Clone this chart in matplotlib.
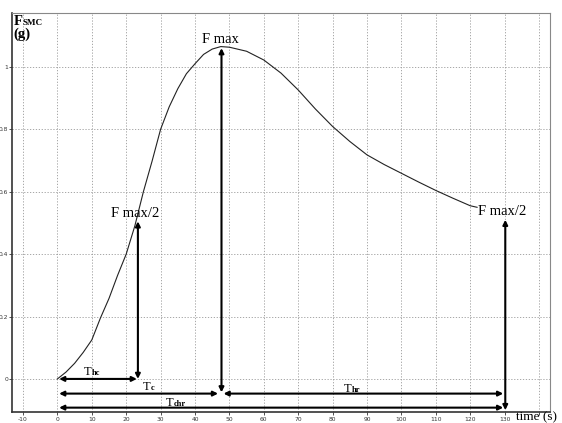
import matplotlib
matplotlib.use('Agg')
import matplotlib.pyplot as plt

# curve
time_s = [0, 2.5, 5, 7.5, 10, 12.5, 15, 17.5, 20, 22.5, 25, 27.5, 30, 32.5, 35, 37.5, 40, 42.5, 45, 47.5,
          50, 55, 60, 65, 70, 75, 80, 85, 90, 95, 100, 105, 110, 115, 120, 122]
force_g = [0.0, 0.022, 0.05, 0.085, 0.125, 0.195, 0.258, 0.332, 0.40, 0.49, 0.60, 0.697, 0.80, 0.872, 0.93,
           0.978, 1.01, 1.04, 1.057, 1.065, 1.063, 1.05, 1.022, 0.98, 0.926, 0.865, 0.809, 0.761, 0.718,
           0.687, 0.659, 0.631, 0.604, 0.579, 0.555, 0.55]

x_ticks = [-10, 0, 10, 20, 30, 40, 50, 60, 70, 80, 90, 100, 110, 120, 130, 140]
x_labels = ['-10', '0', '10', '20', '30', '40', '50', '60', '70', '80', '90', '100', '110', '120', '130', '']
y_ticks = [0, 0.2, 0.4, 0.6, 0.8, 1.0]
y_labels = ['0', '0.2', '0.4', '0.6', '0.8', '1']

# key times / levels
t_half_up = 23.4
t_peak = 47.7
t_half_down = 130.2
f_peak = 1.062
f_half = 0.51

SERIF = ['Liberation Serif', 'DejaVu Serif']

fig = plt.figure(figsize=(5.62, 4.23), dpi=100)
ax = fig.add_axes([12 / 562, 1 - 411.7 / 423, (550 - 12) / 562, (411.7 - 13.5) / 423])

ax.plot(time_s, force_g, color='#222222', lw=0.8)

ax.set_xlim(-13.2, 143.2)
ax.set_ylim(-0.105, 1.171)
ax.set_xticks(x_ticks)
ax.set_xticklabels(x_labels)
ax.set_yticks(y_ticks)
ax.set_yticklabels(y_labels)
ax.tick_params(labelsize=4.3, length=2, width=0.6, colors='#333333')
ax.tick_params(axis='y', pad=0.6)
ax.tick_params(axis='x', pad=1.5)
ax.grid(True, ls=(0, (1.5, 2)), color='#999999', lw=0.6)

for s in ['left', 'bottom']:
    ax.spines[s].set_linewidth(1.2)
    ax.spines[s].set_color('#333333')
for s in ['top', 'right']:
    ax.spines[s].set_linewidth(0.8)
    ax.spines[s].set_color('#888888')


def arrow(x0, y0, x1, y1):
    ax.annotate('', xy=(x1, y1), xytext=(x0, y0),
                arrowprops=dict(arrowstyle='<|-|>', color='black', lw=1.5,
                                mutation_scale=7, shrinkA=0, shrinkB=0))


# vertical arrows
arrow(t_half_up, 0.0, t_half_up, f_half - 0.005)
arrow(t_peak, -0.043, t_peak, f_peak - 0.002)
arrow(t_half_down, -0.1, t_half_down, f_half)

# horizontal arrows
arrow(0.5, 0.0, t_half_up - 0.3, 0.0)
arrow(0.5, -0.047, t_peak - 1.0, -0.047)
arrow(t_peak + 0.6, -0.047, t_half_down - 0.6, -0.047)
arrow(0.5, -0.092, t_half_down - 0.6, -0.092)

# labels
ax.text(t_peak - 0.3, 1.087, 'F max', ha='center', va='center', fontsize=10.5, family=SERIF)
ax.text(22.6, 0.53, 'F max/2', ha='center', va='center', fontsize=10.5, family=SERIF)
ax.text(129.2, 0.536, 'F max/2', ha='center', va='center', fontsize=10.5, family=SERIF)


def t_label(x, y, sub):
    ax.text(x, y, 'T', ha='right', va='baseline', fontsize=9, family=SERIF)
    ax.annotate(sub, xy=(x, y), xycoords='data', xytext=(0.2, 0), textcoords='offset points',
                ha='left', va='baseline', fontsize=6, family=SERIF, fontweight='bold')


t_label(9.8, 0.013, 'hc')
t_label(27.0, -0.035, 'c')
t_label(33.6, -0.087, 'chr')
t_label(85.4, -0.042, 'hr')

fig.text(14 / 562, 1 - 25 / 423, 'F', fontsize=10.5, family=SERIF, fontweight='bold', va='baseline')
fig.text(23 / 562, 1 - 25 / 423, 'SMC', fontsize=6.5, family=SERIF, fontweight='bold', va='baseline')
fig.text(13 / 562, 1 - 38 / 423, '(g)', fontsize=10.5, family=SERIF, fontweight='bold', va='baseline')

fig.text(516 / 562, 1 - 420 / 423, 'time (s)', fontsize=9.5, family=SERIF, va='baseline')

fig.savefig('out.png', dpi=100)
